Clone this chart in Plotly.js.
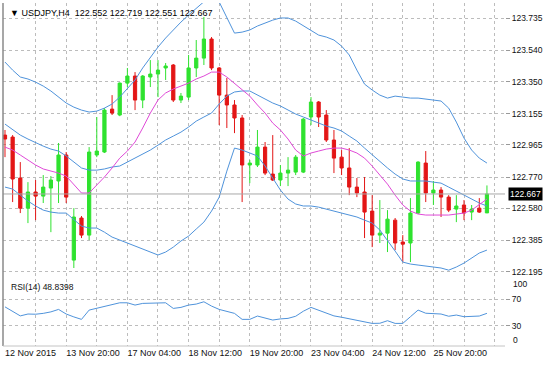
<!DOCTYPE html>
<html>
<head>
<meta charset="utf-8">
<script src="https://cdn.plot.ly/plotly-3.0.1.min.js"></script>
<style>html,body{margin:0;padding:0;background:#fff;}#chart{width:550px;height:365px;}</style>
</head>
<body>
<div id="chart"></div>
<script>
// H4 bars, 12 Nov 2015 12:00 onwards
const open = [123.025,123.013,122.764,122.581,122.679,122.654,122.703,122.746,122.904,122.265,
  122.521,122.417,122.904,122.922,123.183,123.147,123.341,123.384,123.238,123.378,
  123.396,123.433,123.451,123.238,123.256,123.433,123.493,123.609,123.433,123.268,
  123.208,123.129,122.843,122.843,122.952,122.788,122.752,122.794,122.800,122.800,
  123.135,123.226,123.147,122.995,122.891,122.825,122.709,122.679,122.563,122.417,
  122.429,122.508,122.375,122.369,122.551,122.855,122.673,122.691,122.648,122.575,
  122.600,122.557,122.581,122.552];
const high = [123.056,123.025,122.861,122.739,122.752,122.782,122.776,122.977,122.922,122.581,
  122.533,122.952,123.135,123.189,123.268,123.345,123.433,123.408,123.390,123.481,
  123.481,123.463,123.457,123.281,123.512,123.603,123.743,123.621,123.439,123.372,
  123.238,123.147,122.873,123.056,122.983,123.025,122.843,122.891,122.904,123.129,
  123.256,123.232,123.177,123.056,122.934,122.946,122.764,122.770,122.660,122.630,
  122.569,122.521,122.417,122.642,122.866,122.928,122.746,122.709,122.660,122.660,
  122.630,122.600,122.642,122.719];
const low = [122.891,122.618,122.551,122.490,122.508,122.612,122.435,122.612,122.612,122.217,
  122.399,122.387,122.891,122.916,123.147,123.140,123.317,123.177,123.189,123.317,
  123.256,123.360,123.226,123.220,123.238,123.378,123.451,123.420,123.086,123.068,
  123.037,122.618,122.733,122.831,122.782,122.746,122.715,122.715,122.782,122.794,
  123.086,123.074,122.983,122.794,122.782,122.660,122.648,122.399,122.344,122.369,
  122.314,122.326,122.253,122.253,122.545,122.618,122.600,122.527,122.557,122.496,
  122.508,122.508,122.552,122.551];
const close = [123.001,122.758,122.581,122.679,122.654,122.709,122.752,122.904,122.648,122.527,
  122.417,122.922,122.928,123.177,123.159,123.341,123.384,123.238,123.384,123.396,
  123.420,123.445,123.238,123.262,123.433,123.493,123.609,123.433,123.268,123.208,
  123.129,122.843,122.855,122.952,122.794,122.752,122.794,122.812,122.891,123.122,
  123.226,123.135,122.995,122.885,122.825,122.709,122.673,122.557,122.417,122.429,
  122.514,122.369,122.362,122.551,122.861,122.673,122.691,122.648,122.569,122.594,
  122.551,122.575,122.557,122.667];

const bbUpper = [123.469,123.420,123.378,123.366,123.347,123.323,123.293,123.256,123.220,123.195,
  123.177,123.165,123.171,123.189,123.214,123.256,123.305,123.360,123.433,123.499,
  123.560,123.615,123.664,123.712,123.755,123.797,123.834,123.876,123.834,123.737,
  123.645,123.651,123.664,123.688,123.706,123.724,123.737,123.737,123.718,123.688,
  123.658,123.633,123.621,123.603,123.566,123.512,123.420,123.335,123.299,123.268,
  123.250,123.262,123.256,123.250,123.250,123.244,123.238,123.232,123.189,123.104,
  123.007,122.934,122.885,122.855];
const bbMiddle = [123.092,123.056,123.025,123.001,122.977,122.958,122.940,122.928,122.898,122.861,
  122.825,122.812,122.812,122.819,122.831,122.837,122.861,122.885,122.910,122.934,
  122.964,122.995,123.019,123.043,123.074,123.110,123.135,123.159,123.214,123.262,
  123.287,123.293,123.293,123.268,123.244,123.220,123.202,123.177,123.153,123.135,
  123.116,123.098,123.080,123.068,123.050,123.019,122.989,122.946,122.904,122.867,
  122.825,122.788,122.758,122.746,122.746,122.746,122.739,122.733,122.709,122.685,
  122.660,122.636,122.612,122.594];
const bbLower = [122.709,122.697,122.660,122.624,122.594,122.569,122.557,122.551,122.551,122.514,
  122.472,122.460,122.460,122.435,122.405,122.387,122.369,122.350,122.332,122.314,
  122.296,122.314,122.344,122.381,122.411,122.454,122.496,122.563,122.648,122.806,
  122.946,122.934,122.916,122.898,122.837,122.764,122.691,122.636,122.606,122.594,
  122.594,122.587,122.575,122.563,122.551,122.539,122.527,122.508,122.490,122.448,
  122.387,122.320,122.253,122.241,122.235,122.229,122.223,122.217,122.204,122.223,
  122.247,122.277,122.308,122.326];
const maFast = [122.952,122.934,122.904,122.873,122.843,122.819,122.806,122.794,122.776,122.721,
  122.673,122.673,122.721,122.770,122.825,122.885,122.928,122.983,123.068,123.159,
  123.238,123.281,123.305,123.323,123.341,123.366,123.384,123.408,123.408,123.378,
  123.341,123.299,123.262,123.208,123.159,123.098,123.056,123.001,122.934,122.898,
  122.916,122.928,122.940,122.946,122.946,122.934,122.916,122.885,122.837,122.782,
  122.727,122.660,122.600,122.563,122.545,122.539,122.539,122.539,122.539,122.545,
  122.551,122.569,122.600,122.636];
const rsi = [58.5,52,45,47.8,47.5,48.8,51,54.7,47.8,43.5,
  39.8,53.7,56.2,59.7,61.2,64.6,64.6,61.2,63.7,63.7,
  64.6,64.6,56.2,57.7,61.2,62.7,66.1,59.7,54.7,51.2,
  48.8,39.8,39.8,44.8,41.3,38.8,40.5,41.3,44.5,52,
  57.7,53.7,49,45,43,40.5,39,36.5,33.8,34,
  37.8,33.8,33.8,43.8,53.7,49,48.8,47.8,44.5,46.3,
  43.8,44.8,44.8,48.8398];

const priceTicks = [123.735,123.540,123.350,123.155,122.965,122.770,122.580,122.385,122.195];
const rsiLevels = [70,30];
const dateTickIdx = [0,8,16,24,32,40,48,56];
const dateTickLabels = ['12 Nov 2015','13 Nov 20:00','17 Nov 04:00','18 Nov 12:00','19 Nov 20:00','23 Nov 04:00','24 Nov 12:00','25 Nov 20:00'];
const gridIdx = [4,8,12,16,20,24,28,32,36,40,44,48,52,56,60,64];

const idx = open.map((_, i) => i);
const last = open.length - 1;

const GREEN = '#2fe22f', RED = '#e31616', BLUE = '#4f93db', PINK = '#e04ad8';
const GRID = '#bcbcbc';
const FONT = 'Liberation Sans, Arial, sans-serif';

const traces = [
  {type:'candlestick', x: idx, open, high, low, close, xaxis:'x', yaxis:'y',
   increasing:{line:{color:GREEN, width:1}, fillcolor:GREEN},
   decreasing:{line:{color:RED, width:1}, fillcolor:RED},
   whiskerwidth:0, hoverinfo:'skip'},
  {type:'scatter', mode:'lines', x: idx, y: bbUpper, line:{color:BLUE, width:1}, xaxis:'x', yaxis:'y', hoverinfo:'skip'},
  {type:'scatter', mode:'lines', x: idx, y: bbMiddle, line:{color:BLUE, width:1}, xaxis:'x', yaxis:'y', hoverinfo:'skip'},
  {type:'scatter', mode:'lines', x: idx, y: bbLower, line:{color:BLUE, width:1}, xaxis:'x', yaxis:'y', hoverinfo:'skip'},
  {type:'scatter', mode:'lines', x: idx, y: maFast, line:{color:PINK, width:1}, xaxis:'x', yaxis:'y', hoverinfo:'skip'},
  {type:'scatter', mode:'lines', x: idx, y: rsi, line:{color:BLUE, width:1}, xaxis:'x2', yaxis:'y2', hoverinfo:'skip'}
];

const xr = [-0.26, 65.36];
const layout = {
  width:550, height:365,
  margin:{l:3, r:45, t:3, b:19},
  paper_bgcolor:'#fff', plot_bgcolor:'#fff',
  showlegend:false,
  font:{family:FONT, size:8.5, color:'#111'},
  boxgap:0.4,
  xaxis:{domain:[0,1], anchor:'y', range:xr, tickmode:'array', tickvals:gridIdx,
    showticklabels:false, ticks:'', showgrid:true, gridcolor:GRID, griddash:'3px,3px', gridwidth:1,
    zeroline:false, rangeslider:{visible:false}, fixedrange:true},
  xaxis2:{domain:[0,1], anchor:'y2', range:xr, tickmode:'array', tickvals:dateTickIdx, ticktext:dateTickLabels,
    ticklabelposition:'outside right', tickangle:0, ticks:'', showgrid:false, zeroline:false,
    minor:{tickmode:'array', tickvals:gridIdx, showgrid:true, gridcolor:GRID, griddash:'3px,3px', ticks:''},
    tickfont:{family:FONT, size:9, color:'#111'}, fixedrange:true},
  yaxis:{domain:[0.201,1], anchor:'x', side:'right', range:[122.162,123.828], tickmode:'array',
    tickvals:priceTicks, tickformat:'.3f', showgrid:true, gridcolor:GRID, griddash:'3px,3px',
    ticks:'outside', ticklen:4, tickcolor:'#999', zeroline:false,
    tickfont:{family:FONT, size:8.5, color:'#111'}, fixedrange:true},
  yaxis2:{domain:[0,0.195], anchor:'x2', side:'right', range:[0,100], tickmode:'array',
    tickvals:rsiLevels, showgrid:true, gridcolor:GRID, griddash:'3px,3px',
    ticks:'outside', ticklen:4, tickcolor:'#999', zeroline:false,
    tickfont:{family:FONT, size:8.5, color:'#111'}, fixedrange:true},
  shapes:[
    {type:'line', xref:'x', yref:'y', x0:xr[0], x1:xr[1], y0:close[last], y1:close[last], line:{color:'#a8a8a8', width:1}},
    {type:'line', xref:'paper', yref:'paper', x0:0, x1:0, y0:0, y1:1, line:{color:'#8a8a8a', width:1.5}},
    {type:'line', xref:'paper', yref:'paper', x0:0, x1:1, y0:0, y1:0, line:{color:'#c4c4c4', width:1}}
  ],
  annotations:[
    {xref:'paper', yref:'paper', x:0, y:1, xanchor:'left', yanchor:'top', xshift:5, yshift:-3, showarrow:false,
     text:'▼ USDJPY,H4  ' + [open[last],high[last],low[last],close[last]].map(v=>v.toFixed(3)).join(' '),
     font:{family:FONT, size:9, color:'#000'}},
    {xref:'paper', yref:'y2', x:0, y:100, xanchor:'left', yanchor:'middle', xshift:6, yshift:-8, showarrow:false,
     text:'RSI(14) ' + rsi[last].toFixed(4), font:{family:FONT, size:8.5, color:'#111'}},
    {xref:'paper', yref:'y2', x:1, y:100, xanchor:'left', yanchor:'middle', xshift:6, yshift:-5, showarrow:false,
     text:'100', font:{family:FONT, size:8.5, color:'#111'}},
    {xref:'paper', yref:'y2', x:1, y:0, xanchor:'left', yanchor:'middle', xshift:6, yshift:6, showarrow:false,
     text:'0', font:{family:FONT, size:8.5, color:'#111'}},
    {xref:'paper', yref:'y', x:1, y:close[last], xanchor:'left', yanchor:'middle', xshift:3, showarrow:false,
     text:close[last].toFixed(3), bgcolor:'#000', borderpad:1, font:{family:FONT, size:8.5, color:'#fff'}}
  ]
};

Plotly.newPlot('chart', traces, layout, {staticPlot:true, displayModeBar:false});
</script>
</body>
</html>
